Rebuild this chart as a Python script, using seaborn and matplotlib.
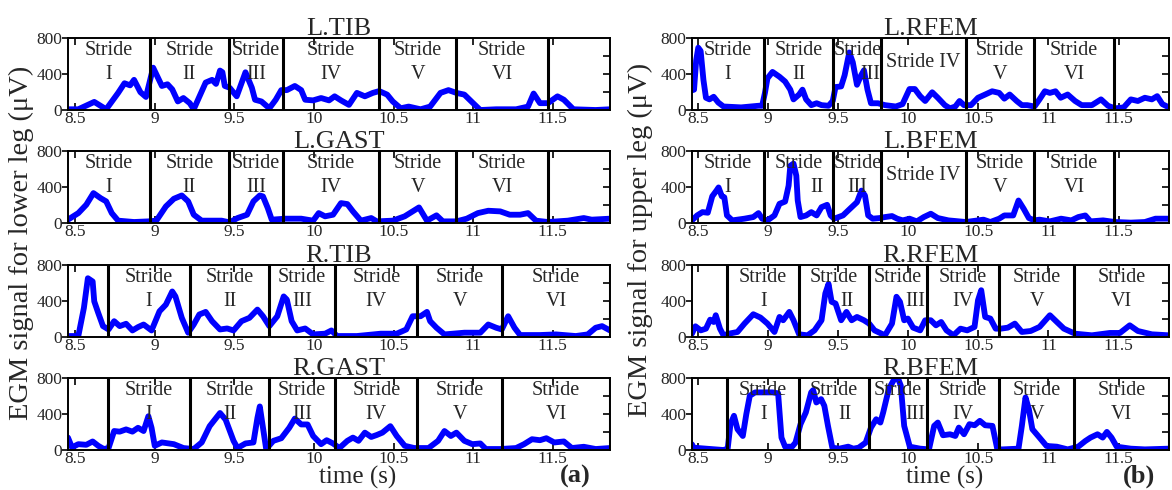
import numpy as np
import matplotlib
matplotlib.use("Agg")
import matplotlib.pyplot as plt
from matplotlib.ticker import FixedLocator, FormatStrFormatter
import seaborn as sns

sns.set_theme(style="white")
plt.rcParams["font.family"] = ["Liberation Serif", "DejaVu Serif"]

# EMG envelopes (time s, amplitude uV)
l_tib = [(8.455, 8), (8.52, 8), (8.62, 90), (8.695, 8), (8.77, 190), (8.81, 297), (8.845, 274),
         (8.87, 335), (8.91, 198), (8.945, 145), (8.99, 470), (9.045, 267), (9.08, 286),
         (9.11, 229), (9.145, 95), (9.18, 133), (9.22, 76), (9.245, 8), (9.32, 305), (9.36, 335),
         (9.385, 290), (9.41, 438), (9.425, 420), (9.44, 267), (9.47, 248), (9.515, 152),
         (9.57, 419), (9.61, 248), (9.63, 114), (9.67, 95), (9.72, 19), (9.76, 114), (9.795, 221),
         (9.83, 221), (9.88, 267), (9.92, 221), (9.945, 114), (9.995, 107), (10.045, 133),
         (10.095, 107), (10.13, 152), (10.17, 107), (10.22, 57), (10.27, 190), (10.32, 152),
         (10.37, 190), (10.41, 210), (10.46, 171), (10.495, 95), (10.545, 19), (10.595, 38),
         (10.67, 8), (10.73, 38), (10.795, 190), (10.845, 221), (10.895, 190), (10.945, 171),
         (11.0, 76), (11.045, 0), (11.145, 8), (11.27, 8), (11.345, 38), (11.38, 183), (11.42, 76),
         (11.47, 76), (11.53, 152), (11.57, 114), (11.63, 8), (11.77, 0), (11.86, 8)]

l_gast = [(8.455, 37), (8.52, 110), (8.57, 203), (8.615, 332), (8.66, 276), (8.695, 240),
          (8.73, 110), (8.77, 26), (8.87, 11), (8.96, 18), (9.01, 26), (9.07, 184), (9.12, 269),
          (9.17, 306), (9.21, 240), (9.245, 92), (9.295, 26), (9.42, 26), (9.47, 7), (9.52, 55),
          (9.58, 92), (9.62, 240), (9.66, 306), (9.68, 295), (9.71, 166), (9.735, 37), (9.82, 48),
          (9.92, 48), (9.995, 26), (10.03, 110), (10.07, 74), (10.12, 92), (10.17, 221),
          (10.21, 210), (10.245, 129), (10.295, 26), (10.36, 55), (10.395, 18), (10.495, 26),
          (10.57, 74), (10.66, 173), (10.71, 26), (10.77, 85), (10.81, 18), (10.895, 18),
          (10.96, 48), (11.03, 110), (11.095, 136), (11.17, 129), (11.23, 92), (11.295, 92),
          (11.345, 110), (11.395, 26), (11.47, 11), (11.595, 26), (11.695, 55), (11.745, 37),
          (11.86, 48)]

r_tib = [(8.455, 11), (8.52, 11), (8.555, 323), (8.58, 653), (8.61, 617), (8.62, 396),
         (8.645, 268), (8.675, 121), (8.71, 84), (8.745, 176), (8.78, 121), (8.82, 147),
         (8.86, 73), (8.895, 110), (8.93, 139), (8.98, 73), (9.03, 286), (9.07, 360), (9.11, 506),
         (9.13, 451), (9.17, 213), (9.21, 48), (9.245, 139), (9.28, 250), (9.32, 279), (9.36, 176),
         (9.41, 84), (9.455, 95), (9.495, 73), (9.545, 176), (9.595, 213), (9.645, 305),
         (9.68, 231), (9.72, 121), (9.77, 231), (9.81, 451), (9.83, 415), (9.86, 176), (9.895, 73),
         (9.945, 95), (9.995, 29), (10.07, 37), (10.11, 73), (10.145, 11), (10.27, 11),
         (10.42, 37), (10.52, 37), (10.58, 84), (10.62, 231), (10.67, 231), (10.71, 279),
         (10.73, 176), (10.77, 103), (10.82, 29), (10.945, 48), (11.045, 48), (11.095, 139),
         (11.145, 103), (11.18, 84), (11.22, 231), (11.26, 103), (11.295, 22), (11.42, 22),
         (11.52, 29), (11.645, 11), (11.72, 29), (11.77, 103), (11.81, 121), (11.86, 73)]

r_gast = [(8.455, 138), (8.48, 29), (8.52, 65), (8.57, 58), (8.61, 95), (8.645, 47), (8.68, 11),
          (8.71, 22), (8.745, 211), (8.78, 204), (8.82, 229), (8.86, 204), (8.895, 247),
          (8.93, 211), (8.96, 375), (8.98, 247), (9.0, 47), (9.045, 84), (9.12, 65), (9.18, 22),
          (9.245, 11), (9.295, 84), (9.345, 265), (9.41, 411), (9.445, 338), (9.495, 102),
          (9.52, 22), (9.57, 73), (9.62, 84), (9.645, 356), (9.66, 484), (9.68, 247), (9.7, 11),
          (9.745, 102), (9.795, 131), (9.845, 247), (9.88, 349), (9.92, 284), (9.96, 284),
          (9.995, 156), (10.045, 65), (10.08, 109), (10.12, 73), (10.16, 22), (10.21, 102),
          (10.245, 138), (10.28, 102), (10.32, 193), (10.36, 145), (10.395, 167), (10.43, 193),
          (10.48, 265), (10.52, 156), (10.57, 47), (10.63, 22), (10.72, 22), (10.78, 102),
          (10.82, 211), (10.86, 156), (10.895, 193), (10.945, 102), (10.995, 65), (11.045, 73),
          (11.08, 11), (11.17, 11), (11.27, 22), (11.32, 65), (11.37, 120), (11.42, 109),
          (11.46, 131), (11.51, 84), (11.57, 95), (11.62, 22), (11.695, 36), (11.77, 11),
          (11.86, 22)]

l_rfem = [(8.455, 219), (8.47, 226), (8.485, 549), (8.5, 692), (8.517, 656), (8.537, 334),
          (8.555, 136), (8.58, 118), (8.61, 147), (8.643, 83), (8.68, 39), (8.806, 29),
          (8.93, 47), (8.956, 47), (8.976, 190), (8.994, 352), (9.03, 423), (9.08, 369),
          (9.12, 316), (9.157, 226), (9.18, 118), (9.22, 172), (9.244, 226), (9.27, 118),
          (9.307, 54), (9.345, 75), (9.38, 54), (9.43, 47), (9.46, 100), (9.48, 255), (9.52, 262),
          (9.545, 387), (9.578, 639), (9.603, 531), (9.633, 280), (9.663, 387), (9.683, 441),
          (9.708, 226), (9.733, 75), (9.783, 75), (9.833, 54), (9.91, 39), (9.958, 65),
          (10.008, 233), (10.046, 233), (10.084, 154), (10.12, 100), (10.17, 197), (10.21, 136),
          (10.26, 54), (10.297, 18), (10.335, 39), (10.365, 100), (10.397, 54), (10.447, 54),
          (10.497, 136), (10.548, 172), (10.598, 208), (10.648, 190), (10.685, 126),
          (10.723, 172), (10.773, 100), (10.81, 54), (10.848, 54), (10.9, 39), (10.936, 118),
          (10.974, 208), (11.01, 190), (11.05, 208), (11.087, 136), (11.137, 172), (11.19, 100),
          (11.237, 54), (11.31, 54), (11.375, 118), (11.425, 47), (11.475, 18), (11.537, 29),
          (11.588, 118), (11.638, 100), (11.688, 136), (11.738, 118), (11.776, 154),
          (11.813, 65), (11.86, 29)]

l_bfem = [(8.455, 29), (8.492, 84), (8.53, 121), (8.568, 114), (8.6, 297), (8.63, 360),
          (8.645, 395), (8.668, 297), (8.686, 286), (8.705, 84), (8.743, 29), (8.83, 48),
          (8.893, 66), (8.93, 110), (8.956, 48), (8.994, 29), (9.044, 84), (9.08, 213),
          (9.12, 238), (9.145, 415), (9.157, 635), (9.18, 660), (9.2, 525), (9.21, 250),
          (9.23, 66), (9.27, 84), (9.307, 121), (9.345, 84), (9.38, 176), (9.42, 202),
          (9.445, 84), (9.47, 48), (9.533, 84), (9.583, 158), (9.633, 231), (9.665, 360),
          (9.69, 305), (9.713, 84), (9.745, 48), (9.795, 55), (9.833, 66), (9.883, 77),
          (9.92, 48), (9.96, 29), (10.008, 48), (10.06, 18), (10.11, 66), (10.16, 103),
          (10.21, 55), (10.286, 29), (10.41, 11), (10.536, 37), (10.585, 11), (10.648, 48),
          (10.685, 84), (10.748, 84), (10.786, 250), (10.823, 158), (10.86, 55), (10.9, 29),
          (10.936, 37), (11.01, 18), (11.09, 48), (11.163, 29), (11.213, 66), (11.263, 84),
          (11.3, 18), (11.39, 29), (11.475, 11), (11.588, 4), (11.688, 11), (11.764, 48),
          (11.86, 48)]

r_rfem = [(8.455, 37), (8.48, 119), (8.518, 74), (8.555, 93), (8.585, 193), (8.61, 167),
          (8.625, 242), (8.655, 93), (8.68, 19), (8.718, 37), (8.78, 56), (8.83, 149),
          (8.893, 253), (8.944, 216), (8.994, 149), (9.044, 56), (9.08, 223), (9.106, 186),
          (9.15, 279), (9.18, 186), (9.22, 30), (9.28, 19), (9.33, 74), (9.38, 186), (9.407, 484),
          (9.43, 590), (9.452, 391), (9.48, 372), (9.52, 186), (9.558, 279), (9.595, 186),
          (9.633, 223), (9.683, 186), (9.72, 149), (9.758, 74), (9.833, 19), (9.883, 149),
          (9.915, 447), (9.94, 391), (9.97, 186), (9.996, 205), (10.034, 104), (10.084, 74),
          (10.12, 186), (10.16, 186), (10.197, 130), (10.234, 167), (10.272, 74), (10.322, 19),
          (10.372, 93), (10.42, 74), (10.472, 112), (10.497, 409), (10.52, 520), (10.548, 223),
          (10.585, 205), (10.623, 93), (10.66, 93), (10.71, 104), (10.76, 149), (10.81, 56),
          (10.873, 67), (10.936, 112), (11.01, 242), (11.06, 167), (11.11, 93), (11.19, 37),
          (11.31, 19), (11.437, 45), (11.51, 45), (11.58, 130), (11.638, 67), (11.738, 30),
          (11.86, 19)]

r_bfem = [(8.455, 63), (8.467, 26), (8.555, 15), (8.68, 0), (8.71, 15), (8.73, 287), (8.755, 380),
          (8.78, 231), (8.818, 156), (8.843, 398), (8.868, 603), (8.906, 640), (9.03, 640),
          (9.07, 630), (9.094, 138), (9.12, 37), (9.17, 37), (9.194, 82), (9.23, 287),
          (9.268, 417), (9.306, 640), (9.32, 665), (9.343, 528), (9.377, 565), (9.4, 491),
          (9.426, 268), (9.457, 26), (9.506, 15), (9.57, 37), (9.607, 15), (9.645, 26),
          (9.695, 82), (9.733, 249), (9.77, 342), (9.8, 305), (9.82, 417), (9.86, 677),
          (9.9, 790), (9.925, 800), (9.946, 714), (9.97, 268), (10.01, 37), (10.084, 15),
          (10.147, 7), (10.184, 268), (10.21, 305), (10.247, 164), (10.297, 175), (10.335, 156),
          (10.36, 249), (10.397, 175), (10.436, 287), (10.473, 275), (10.51, 324), (10.548, 275),
          (10.6, 268), (10.635, 7), (10.673, 7), (10.786, 15), (10.81, 268), (10.836, 584),
          (10.86, 454), (10.885, 231), (10.936, 138), (10.986, 45), (11.06, 37), (11.137, 7),
          (11.212, 37), (11.263, 100), (11.3, 138), (11.35, 175), (11.387, 138), (11.417, 201),
          (11.45, 138), (11.487, 37), (11.588, 15), (11.688, 7), (11.86, 15)]

# stride boundaries (s)
left_leg_lines = [8.97, 9.465, 9.805, 10.41, 10.895, 11.47]
right_leg_lines = [8.707, 9.22, 9.72, 10.133, 10.65, 11.18, 11.86]
numerals = ["I", "II", "III", "IV", "V", "VI"]
x_ticks = [8.5, 9, 9.5, 10, 10.5, 11, 11.5]
XMIN, XMAX = 8.455, 11.86

panels = [
    # name, data, column, row, leg, single-line labels, numeral shifts
    ("L.TIB", l_tib, 0, 0, "L", [], {}),
    ("L.GAST", l_gast, 0, 1, "L", [], {}),
    ("R.TIB", r_tib, 0, 2, "R", [], {}),
    ("R.GAST", r_gast, 0, 3, "R", [], {}),
    ("L.RFEM", l_rfem, 1, 0, "L", [3], {2: 0.09}),
    ("L.BFEM", l_bfem, 1, 1, "L", [3], {1: 0.13}),
    ("R.RFEM", r_rfem, 1, 2, "R", [], {1: 0.09, 2: 0.125}),
    ("R.BFEM", r_bfem, 1, 3, "R", [], {1: 0.075, 2: 0.125}),
]

fig = plt.figure(figsize=(11.72, 4.9), dpi=100)
col_x = [0.058, 0.5904]
col_w = [0.4625, 0.407]
row_bottom = [0.7755, 0.5449, 0.3122, 0.0816]
row_h = 0.147

for name, data, col, row, leg, single, shifts in panels:
    ax = fig.add_axes([col_x[col], row_bottom[row], col_w[col], row_h])
    t, v = zip(*data)
    sns.lineplot(x=list(t), y=list(v), ax=ax, color="#0000FF", linewidth=4.2,
                 solid_joinstyle="round", solid_capstyle="round")

    lines = left_leg_lines if leg == "L" else right_leg_lines
    for b in lines:
        ax.axvline(b, color="black", linewidth=2.2, zorder=5)

    edges = [XMIN] + lines if leg == "L" else lines
    for i, lab in enumerate(numerals):
        xc = (edges[i] + edges[i + 1]) / 2
        if i in single:
            ax.text(xc, 530, "Stride " + lab, ha="center", va="center", fontsize=14.5, zorder=6)
        else:
            ax.text(xc, 665, "Stride", ha="center", va="center", fontsize=14.5, zorder=6)
            ax.text(xc + shifts.get(i, 0), 395, lab, ha="center", va="center",
                    fontsize=14.5, zorder=6)

    ax.set_xlim(XMIN, XMAX)
    ax.set_ylim(0, 800)
    ax.set_xticks(x_ticks)
    ax.xaxis.set_major_formatter(FormatStrFormatter("%g"))
    ax.set_yticks([0, 400, 800])
    ax.yaxis.set_minor_locator(FixedLocator([200, 400, 600]))
    ax.yaxis.remove_overlapping_locs = False
    ax.tick_params(axis="x", which="major", direction="in", top=True, bottom=True,
                   length=5, width=1.2, color="black", labelsize=12.5, pad=1)
    ax.tick_params(axis="y", which="major", direction="out", left=True, right=False,
                   length=4, width=1.2, color="black", labelsize=12.5, pad=0)
    ax.tick_params(axis="y", which="minor", direction="in", left=False, right=True,
                   length=5, width=1.2, color="black")
    ax.set_xlabel("")
    ax.set_ylabel("")
    for s in ax.spines.values():
        s.set_color("black")
        s.set_linewidth(1.4)
    ax.set_title(name, fontsize=19, pad=2)

fig.text(0.0185, 0.505, "EGM signal for lower leg (μV)", rotation=90,
         ha="center", va="center", fontsize=20.5)
fig.text(0.5465, 0.51, "EGM signal for upper leg (μV)", rotation=90,
         ha="center", va="center", fontsize=20.5)
fig.text(0.305, 0.026, "time (s)", ha="center", va="center", fontsize=18)
fig.text(0.806, 0.026, "time (s)", ha="center", va="center", fontsize=18)
fig.text(0.491, 0.028, "(a)", ha="center", va="center", fontsize=19, fontweight="bold")
fig.text(0.972, 0.028, "(b)", ha="center", va="center", fontsize=19, fontweight="bold")

plt.savefig("out.png", dpi=100)
plt.close()
